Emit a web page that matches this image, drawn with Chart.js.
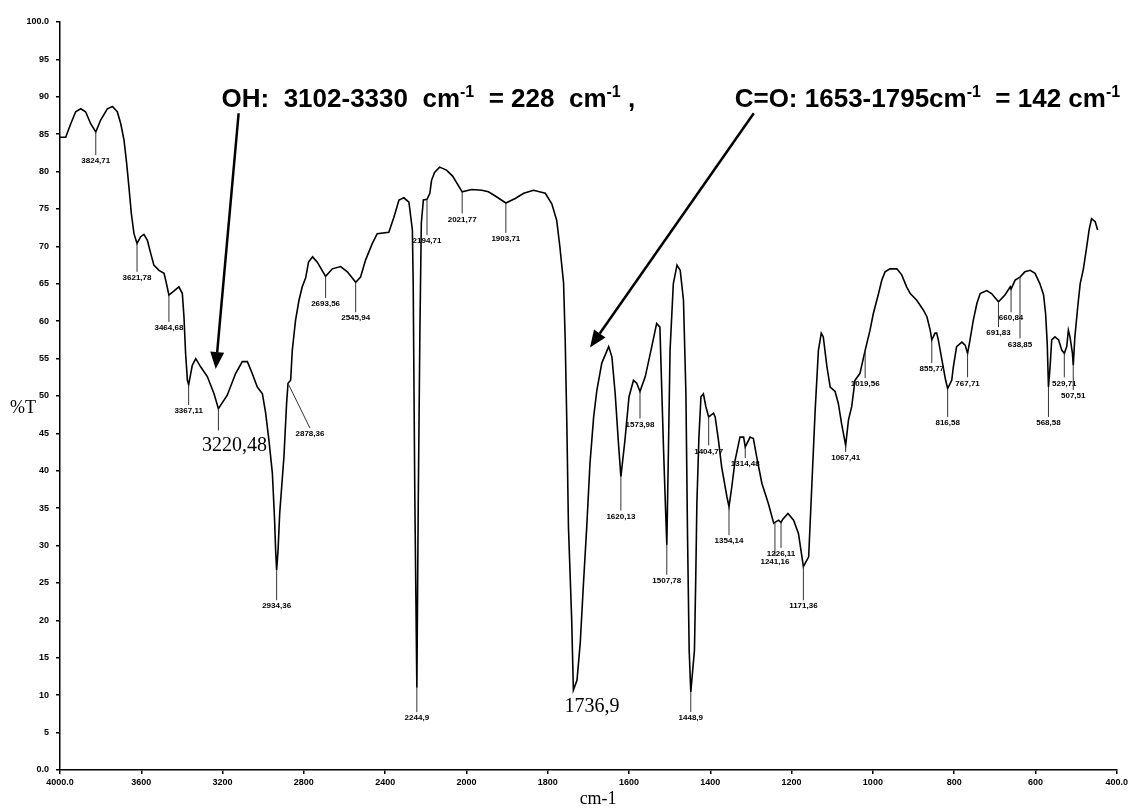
<!DOCTYPE html>
<html><head><meta charset="utf-8">
<script src="https://cdn.jsdelivr.net/npm/chart.js@4.4.1/dist/chart.umd.min.js"></script>
<style>html,body{margin:0;padding:0;background:#fff;}#wrap{width:1131px;height:811px;}</style>
</head><body><div id="wrap"><canvas id="c" width="1131" height="811"></canvas></div>
<script>
// ---- data: IR spectrum (wavenumber cm-1, %T) ----
const wavenumbers = [4000,3972,3947,3923,3898,3874,3849,3824,3800,3767,3742,3718,3701,3685,3672,3661,3649,3636,3621,3603,3587,3570,3554,3538,3513,3488,3480,3464,3446,3415,3398,3390,3382,3373,3367,3349,3332,3308,3275,3242,3220.5,3177,3136,3103,3078,3054,3029,3004,2988,2972,2955,2944,2939,2934,2927,2919,2898,2885,2878,2865,2857,2841,2824,2808,2791,2777,2757,2734,2693,2660,2619,2586,2545,2521,2496,2463,2439,2382,2357,2332,2308,2283,2266,2262,2254,2244,2237,2229,2222,2212,2194,2180,2172,2157,2132,2098,2068,2021,1987,1962,1946,1928,1903,1880,1859,1835,1806,1790,1778,1770,1761,1757,1753,1749,1741,1736.9,1728,1720,1712,1704,1696,1687,1679,1667,1650,1642,1634,1626,1620,1610,1600,1589,1581,1573,1560,1544,1532,1524,1515,1510,1507,1503,1499,1491,1482,1474,1466,1460,1456,1452,1448,1439,1436,1433,1428,1423,1417,1411,1404,1392,1388,1380,1372,1359,1354,1347,1339,1327,1318,1314,1302,1294,1286,1273,1257,1244,1241,1232,1226,1222,1209,1195,1183,1177,1171,1167,1158,1150,1142,1134,1127,1122,1113,1105,1093,1085,1077,1067,1060,1052,1044,1032,1019,1007,999,986,978,970,958,941,929,917,908,892,876,867,859,855,847,843,839,830,821,816,806,802,794,781,773,767,761,753,744,736,720,708,691,675,662,660,650,638,626,613,601,589,580,575,571,568,564,560,552,543,535,529,523,519,515,509,507,503,496,490,482,474,468,462,453,447];
const transmittance = [84.6,84.6,86.4,88.0,88.4,88.0,86.4,85.3,86.9,88.4,88.7,88.0,86.4,84.2,81.1,78.0,74.4,71.7,70.4,71.3,71.6,70.8,69.1,67.5,66.8,66.4,65.5,63.5,63.9,64.6,63.7,60.6,55.7,52.1,51.5,54.1,55.0,53.9,52.6,50.3,48.3,50.1,53.0,54.6,54.6,53.0,51.2,50.3,47.7,44.1,39.7,33.4,29.4,26.7,29.4,34.3,41.9,49.0,51.7,52.1,56.1,60.1,62.8,64.6,65.8,67.9,68.6,67.9,66.0,67.0,67.3,66.6,65.2,65.9,68.2,70.4,71.7,71.9,73.9,76.2,76.5,75.9,72.2,65.0,36.5,11.0,36.1,58.8,73.1,76.2,76.3,77.1,78.8,79.9,80.6,80.2,79.4,77.3,77.6,77.5,77.3,76.7,75.8,76.4,77.1,77.5,77.1,75.7,73.5,69.9,65.1,57.5,46.3,32.5,20.0,10.7,12.0,17.0,25.0,32.5,41.0,47.2,50.8,54.4,56.6,55.2,50.3,43.7,39.2,44.1,49.9,52.1,51.7,50.6,52.6,56.6,59.7,59.2,42.8,34.7,30.1,42.8,56.1,65.0,67.5,66.8,62.8,50.3,31.2,16.0,10.4,16.0,25.0,35.7,44.5,49.9,50.3,48.6,47.2,47.7,47.2,44.1,40.5,36.5,35.2,37.9,41.4,44.5,44.5,43.2,44.5,44.3,41.9,38.3,35.6,33.0,33.1,33.4,33.1,33.5,34.3,33.4,31.6,29.4,27.2,27.6,28.5,38.3,48.1,56.1,58.4,57.9,53.9,51.2,50.6,49.0,46.3,43.4,46.8,48.6,52.1,53.0,56.1,58.8,61.0,63.7,65.5,66.6,67.0,67.0,66.2,64.6,63.7,62.8,61.5,60.6,58.8,57.5,58.4,58.4,57.5,54.8,52.1,51.0,52.1,53.9,56.6,57.2,56.8,55.7,57.5,60.1,62.4,63.7,64.1,63.7,62.6,63.5,64.6,64.3,65.5,65.9,66.6,66.8,66.4,65.0,63.5,61.0,57.0,51.2,53.9,57.5,57.9,57.5,56.1,55.7,56.6,58.8,57.9,55.7,54.1,57.9,61.9,65.0,67.0,69.9,72.2,73.7,73.3,72.2];

// axis ticks (the original axis changes scale at 2000 cm-1)
const xTickValues = [4000,3600,3200,2800,2400,2000,1800,1600,1400,1200,1000,800,600,400];
const xTickLabels = ['4000.0','3600','3200','2800','2400','2000','1800','1600','1400','1200','1000','800','600','400.0'];
const yTickValues = [0,5,10,15,20,25,30,35,40,45,50,55,60,65,70,75,80,85,90,95,100];
const yTickLabels = ['0.0','5','10','15','20','25','30','35','40','45','50','55','60','65','70','75','80','85','90','95','100.0'];

// peak marker labels
const peakWavenumbers = [3824,3621,3464,3367,3220.48,2934,2878,2693,2545,2244,2194,2021,1903,1620,1573,1507,1448,1404,1354,1314,1241,1226,1171,1067,1019,855,816,767,691,660,638,568,529,507];
const peakTransmittance = [85.3,70.4,63.5,51.5,48.3,26.7,51.7,66.0,65.2,11.0,76.3,77.3,75.8,39.2,50.6,30.1,10.4,47.2,35.2,43.2,33.1,33.1,27.2,43.4,56.1,57.5,51.0,55.7,62.6,64.3,65.9,51.2,55.7,54.1];
const peakLineEndWavenumbers = [3824,3621,3464,3367,3220.48,2934,2770,2693,2545,2244,2194,2021,1903,1620,1573,1507,1448,1404,1354,1314,1241,1226,1171,1067,1019,855,816,767,691,660,638,568,529,507];
const peakLineEndTransmittance = [82.2,66.6,59.9,48.8,45.4,22.7,45.7,63.1,61.2,7.75,71.5,74.4,71.8,34.7,47.0,26.1,7.75,43.4,31.4,41.7,28.6,29.7,22.7,42.5,52.4,54.4,47.2,52.5,59.2,61.2,57.7,47.2,52.5,50.8];
const peakLabels = ['3824,71','3621,78','3464,68','3367,11','','2934,36','2878,36','2693,56','2545,94','2244,9','2194,71','2021,77','1903,71','1620,13','1573,98','1507,78','1448,9','1404,77','1354,14','1314,48','1241,16','1226,11','1171,36','1067,41','1019,56','855,77','816,58','767,71','691,83','660,84','638,85','568,58','529,71','507,51'];

// large labels
const bigLabels = ['3220,48','1736,9'];
const bigLabelWavenumbers = [3141,1691];
const bigLabelTransmittance = [43.3,8.4];

// band-width annotations and arrows
const annotationTexts = [
  [['OH:  3102-3330  cm',0],['-1',1],['  = 228  cm',0],['-1',1],[' ,',0]],
  [['C=O: 1653-1795cm',0],['-1',1],['  = 142 cm',0],['-1',1]]
];
const annotationWavenumbers = [3205,1340];
const annotationTransmittance = [88.6,88.6];
const arrowFromWavenumbers = [3121,1293];
const arrowFromTransmittance = [87.8,87.8];
const arrowToWavenumbers = [3234,1696];
const arrowToTransmittance = [53.6,56.5];

// map wavenumber to axis units (400 cm-1 per division above 2000, 200 below)
function toAxis(nu){ return nu >= 2000 ? (4000 - nu) / 400 : 5 + (2000 - nu) / 200; }

const annot = {
  id: 'annot',
  afterDatasetsDraw(chart){
    const ctx = chart.ctx, xs = chart.scales.x, ys = chart.scales.y;
    const px = nu => xs.getPixelForValue(toAxis(nu));
    const py = t => ys.getPixelForValue(t);
    ctx.save();
    // peak lines + small labels
    ctx.strokeStyle = '#333'; ctx.lineWidth = 1;
    ctx.fillStyle = '#000';
    ctx.font = 'bold 8px "Liberation Sans", Arial, sans-serif';
    ctx.textAlign = 'center'; ctx.textBaseline = 'top';
    peakWavenumbers.forEach((nu, i) => {
      const x0 = px(nu), y0 = py(peakTransmittance[i]);
      const x1 = px(peakLineEndWavenumbers[i]), y1 = py(peakLineEndTransmittance[i]);
      ctx.beginPath(); ctx.moveTo(x0, y0); ctx.lineTo(x1, y1); ctx.stroke();
      if (peakLabels[i]) ctx.fillText(peakLabels[i], x1, y1 + 2);
    });
    // big labels
    ctx.font = '20px "Liberation Serif", "Times New Roman", serif';
    ctx.textBaseline = 'middle';
    bigLabels.forEach((t, i) => ctx.fillText(t, px(bigLabelWavenumbers[i]), py(bigLabelTransmittance[i])));
    // annotation texts
    ctx.textAlign = 'left'; ctx.textBaseline = 'alphabetic';
    annotationTexts.forEach((segs, i) => {
      let x = px(annotationWavenumbers[i]); const y = py(annotationTransmittance[i]);
      segs.forEach(([s, sup]) => {
        ctx.font = sup ? 'bold 16px "Liberation Sans", Arial, sans-serif' : 'bold 26px "Liberation Sans", Arial, sans-serif';
        ctx.fillText(s, x, sup ? y - 10 : y);
        x += ctx.measureText(s).width;
      });
    });
    // arrows
    ctx.strokeStyle = '#000'; ctx.lineWidth = 2.5;
    arrowFromWavenumbers.forEach((nu, i) => {
      const x0 = px(nu), y0 = py(arrowFromTransmittance[i]);
      const x1 = px(arrowToWavenumbers[i]), y1 = py(arrowToTransmittance[i]);
      const a = Math.atan2(y1 - y0, x1 - x0), L = 17, W = 7;
      const bx = x1 - L * Math.cos(a), by = y1 - L * Math.sin(a);
      ctx.beginPath(); ctx.moveTo(x0, y0); ctx.lineTo(bx, by); ctx.stroke();
      ctx.beginPath(); ctx.moveTo(x1, y1);
      ctx.lineTo(bx + W * Math.sin(a), by - W * Math.cos(a));
      ctx.lineTo(bx - W * Math.sin(a), by + W * Math.cos(a));
      ctx.closePath(); ctx.fill();
    });
    // axis titles
    ctx.font = '18px "Liberation Serif", "Times New Roman", serif';
    ctx.textAlign = 'center'; ctx.textBaseline = 'middle';
    ctx.fillText('%T', 23, py(48.4));
    ctx.fillText('cm-1', px(1676), 799);
    ctx.restore();
  }
};

new Chart(document.getElementById('c'), {
  type: 'line',
  data: { datasets: [{
    data: wavenumbers.map((nu, i) => ({ x: toAxis(nu), y: transmittance[i] })),
    borderColor: '#000', borderWidth: 1.6, pointRadius: 0, tension: 0, fill: false
  }]},
  options: {
    responsive: false, animation: false,
    layout: { padding: { top: 22, right: 14, left: 0, bottom: 0 } },
    plugins: { legend: { display: false }, tooltip: { enabled: false } },
    scales: {
      x: {
        type: 'linear', min: 0, max: 13,
        afterBuildTicks: s => { s.ticks = xTickValues.map(v => ({ value: toAxis(v) })); },
        afterFit: s => { s.height = 41; },
        ticks: { callback: (v, i) => xTickLabels[i], font: { family: '"Liberation Sans", Arial', size: 9, weight: 'bold' },
                 color: '#000', maxRotation: 0, autoSkip: false, padding: 3 },
        grid: { display: true, drawOnChartArea: false, drawTicks: true, tickLength: 4, color: '#000', lineWidth: 1.5 },
        border: { display: true, color: '#000', width: 1.5 }
      },
      y: {
        min: 0, max: 100,
        afterBuildTicks: s => { s.ticks = yTickValues.map(v => ({ value: v })); },
        afterFit: s => { s.width = 60; },
        ticks: { callback: (v, i) => yTickLabels[i], font: { family: '"Liberation Sans", Arial', size: 9, weight: 'bold' },
                 color: '#000', autoSkip: false, padding: 7 },
        grid: { display: true, drawOnChartArea: false, drawTicks: true, tickLength: 4, color: '#000', lineWidth: 1.5 },
        border: { display: true, color: '#000', width: 1.5 }
      }
    }
  },
  plugins: [annot]
});
</script>
</body></html>
